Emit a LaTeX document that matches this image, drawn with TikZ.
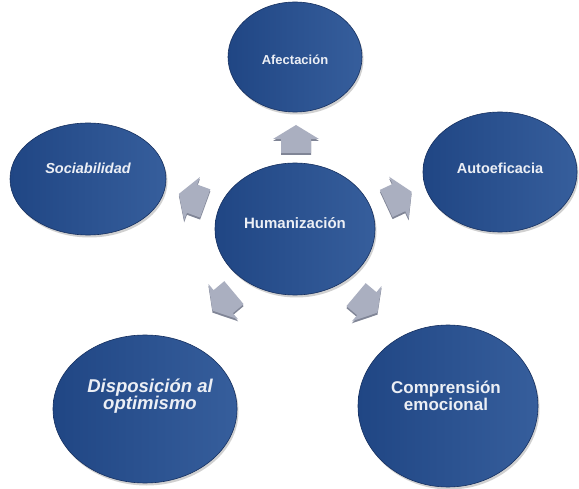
\documentclass[tikz,border=0pt]{standalone}
\usepackage{fontspec}
\setmainfont{Liberation Sans}
\usetikzlibrary{shapes.geometric,shadows}
\definecolor{discA}{RGB}{32,70,132}
\definecolor{discB}{RGB}{54,94,156}
\definecolor{discEdge}{RGB}{22,48,96}
\definecolor{arrFace}{RGB}{170,175,192}
\definecolor{arrEdge}{RGB}{128,133,150}
\definecolor{txt}{RGB}{236,239,245}
\tikzset{
  disc/.style={ellipse, inner sep=0pt, left color=discA, right color=discB,
    draw=discEdge, line width=0.6pt,
    drop shadow={shadow xshift=1.5pt, shadow yshift=-2.5pt, opacity=0.3, fill=black!60}},
  lbl/.style={text=txt, align=center, inner sep=0pt},
  pics/barrow/.style={code={
    \fill[#1] (-13,-15) -- (1,-15) -- (1,-23) -- (15,0) -- (1,23) -- (1,15) -- (-13,15) -- cycle;
  }}
}
\begin{document}
\begin{tikzpicture}[x=1pt,y=1pt]
\useasboundingbox (0,0) rectangle (579,488);
\fill[white] (0,0) rectangle (579,488);

% block arrows (edge then face)
\pic[rotate=90]  at (296,346) {barrow=arrEdge};
\pic[rotate=90]  at (296,348) {barrow=arrFace};
\pic[rotate=160] at (193,287) {barrow=arrEdge};
\pic[rotate=160] at (193,289) {barrow=arrFace};
\pic[rotate=25]  at (398,288) {barrow=arrEdge};
\pic[rotate=25]  at (398,290) {barrow=arrFace};
\pic[rotate=220] at (224,185) {barrow=arrEdge};
\pic[rotate=220] at (224,187) {barrow=arrFace};
\pic[rotate=-40] at (366,183) {barrow=arrEdge};
\pic[rotate=-40] at (366,185) {barrow=arrFace};

% discs
\node[disc, minimum width=134pt, minimum height=110pt] (afe) at (295,431) {};
\node[disc, minimum width=156pt, minimum height=112pt] (soc) at (88,309) {};
\node[disc, minimum width=160pt, minimum height=132pt] (hum) at (295,259) {};
\node[disc, minimum width=154pt, minimum height=120pt] (aut) at (500,316) {};
\node[disc, minimum width=184pt, minimum height=148pt] (dis) at (145,79) {};
\node[disc, minimum width=180pt, minimum height=162pt] (com) at (448,82) {};

% labels
\node[lbl, font=\bfseries\fontsize{13}{15}\selectfont] (afe-t) at (295,428) {Afectación};
\node[lbl, font=\bfseries\itshape\fontsize{14.5}{16}\selectfont] (soc-t) at (88,320) {Sociabilidad};
\node[lbl, font=\bfseries\fontsize{15}{17}\selectfont] (hum-t) at (295,265) {Humanización};
\node[lbl, font=\bfseries\fontsize{14.5}{16}\selectfont] (aut-t) at (500,320) {Autoeficacia};
\node[lbl, font=\bfseries\itshape\fontsize{18.5}{17.5}\selectfont] (dis-t) at (150,92) {Disposición al\\optimismo};
\node[lbl, font=\bfseries\fontsize{17}{17}\selectfont] (com-t) at (446,92) {Comprensión\\emocional};
\end{tikzpicture}
\end{document}
